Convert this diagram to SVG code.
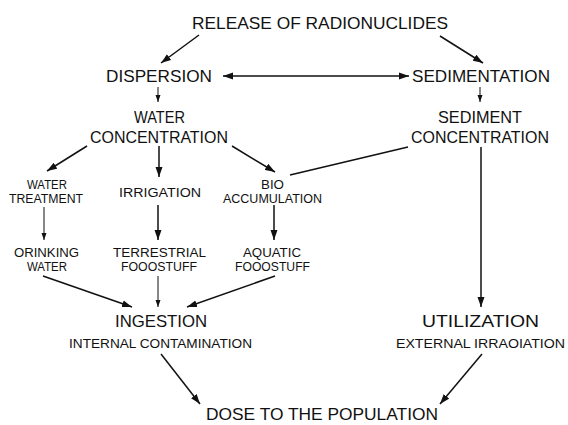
<svg xmlns="http://www.w3.org/2000/svg" width="568" height="425" viewBox="0 0 568 425">
<style>
text{font-family:"Liberation Sans",Arial,sans-serif;fill:#111;}
.b{font-size:16.5px;}
.s{font-size:12.5px;}
.m{font-size:13.5px;}
.c{fill:none;stroke:#111;stroke-width:1.5;}
.t{fill:none;stroke:#111;stroke-width:1;}
.a{marker-end:url(#ah);}
.as{marker-end:url(#ahs);}
</style>
<defs>
<marker id="ah" markerUnits="userSpaceOnUse" markerWidth="11" markerHeight="8" refX="10" refY="4" orient="auto-start-reverse"><path d="M0,0.5 L10,4 L0,7.5 z" fill="#111"/></marker>
<marker id="ahs" markerUnits="userSpaceOnUse" markerWidth="8" markerHeight="6" refX="7" refY="3" orient="auto"><path d="M0,0.5 L7,3 L0,5.5 z" fill="#111"/></marker>
</defs>
<rect width="568" height="425" fill="#fff"/>
<g id="connectors">
<line class="c a" x1="199" y1="35" x2="161" y2="63"/>
<line class="c a" x1="440" y1="36" x2="483" y2="63"/>
<line class="c a" x1="223" y1="76" x2="409" y2="76" marker-start="url(#ah)"/>
<line class="t as" x1="158" y1="87" x2="158" y2="102"/>
<line class="t as" x1="480" y1="87" x2="480" y2="102"/>
<line class="c a" x1="87" y1="146" x2="47" y2="171"/>
<line class="c a" x1="159" y1="146" x2="159" y2="177"/>
<line class="c a" x1="232" y1="146" x2="275" y2="172"/>
<line class="c" x1="408" y1="147" x2="290" y2="175"/>
<line class="c a" x1="481" y1="147" x2="481" y2="307"/>
<line class="t as" x1="44" y1="207" x2="44" y2="240"/>
<line class="c a" x1="158" y1="205" x2="158" y2="240"/>
<line class="c a" x1="274" y1="205" x2="274" y2="240"/>
<line class="c a" x1="43" y1="276" x2="132" y2="307"/>
<line class="t as" x1="158" y1="276" x2="158" y2="307"/>
<line class="c a" x1="275" y1="276" x2="187" y2="307"/>
<line class="c a" x1="161" y1="354" x2="200" y2="404"/>
<line class="c a" x1="482" y1="354" x2="440" y2="404"/>
</g>
<g id="release"><text class="b" x="192" y="29" textLength="256" lengthAdjust="spacingAndGlyphs">RELEASE OF RADIONUCLIDES</text></g>
<g id="dispersion"><text class="b" x="106" y="82" textLength="106" lengthAdjust="spacingAndGlyphs">DISPERSION</text></g>
<g id="sedimentation"><text class="b" x="412" y="82" textLength="138" lengthAdjust="spacingAndGlyphs">SEDIMENTATION</text></g>
<g id="water-concentration">
<text class="b" x="134" y="123" textLength="51" lengthAdjust="spacingAndGlyphs">WATER</text>
<text class="b" x="90" y="143" textLength="138" lengthAdjust="spacingAndGlyphs">CONCENTRATION</text>
</g>
<g id="sediment-concentration">
<text class="b" x="438" y="123" textLength="84" lengthAdjust="spacingAndGlyphs">SEDIMENT</text>
<text class="b" x="411" y="143" textLength="138" lengthAdjust="spacingAndGlyphs">CONCENTRATION</text>
</g>
<g id="water-treatment">
<text class="s" x="27" y="189" textLength="40" lengthAdjust="spacingAndGlyphs">WATER</text>
<text class="s" x="9" y="203" textLength="74" lengthAdjust="spacingAndGlyphs">TREATMENT</text>
</g>
<g id="irrigation"><text class="s" x="119" y="197" textLength="82" lengthAdjust="spacingAndGlyphs">IRRIGATION</text></g>
<g id="bio-accumulation">
<text class="s" x="261" y="189" textLength="23" lengthAdjust="spacingAndGlyphs">BIO</text>
<text class="s" x="223" y="203" textLength="99" lengthAdjust="spacingAndGlyphs">ACCUMULATION</text>
</g>
<g id="drinking-water">
<text class="s" x="14" y="257" textLength="65" lengthAdjust="spacingAndGlyphs">ORINKING</text>
<text class="s" x="27" y="271" textLength="40" lengthAdjust="spacingAndGlyphs">WATER</text>
</g>
<g id="terrestrial-foodstuff">
<text class="s" x="113" y="257" textLength="93" lengthAdjust="spacingAndGlyphs">TERRESTRIAL</text>
<text class="s" x="121" y="271" textLength="76" lengthAdjust="spacingAndGlyphs">FOOOSTUFF</text>
</g>
<g id="aquatic-foodstuff">
<text class="s" x="243" y="257" textLength="58" lengthAdjust="spacingAndGlyphs">AQUATIC</text>
<text class="s" x="235" y="271" textLength="75" lengthAdjust="spacingAndGlyphs">FOOOSTUFF</text>
</g>
<g id="ingestion">
<text class="b" x="115" y="327" textLength="92" lengthAdjust="spacingAndGlyphs">INGESTION</text>
<text class="m" x="69" y="348" textLength="183" lengthAdjust="spacingAndGlyphs">INTERNAL CONTAMINATION</text>
</g>
<g id="utilization">
<text class="b" x="422" y="327" textLength="117" lengthAdjust="spacingAndGlyphs">UTILIZATION</text>
<text class="m" x="396" y="348" textLength="169" lengthAdjust="spacingAndGlyphs">EXTERNAL IRRAOIATION</text>
</g>
<g id="dose"><text x="206" y="420" style="font-size:17px" textLength="232" lengthAdjust="spacingAndGlyphs">DOSE TO THE POPULATION</text></g>
</svg>
